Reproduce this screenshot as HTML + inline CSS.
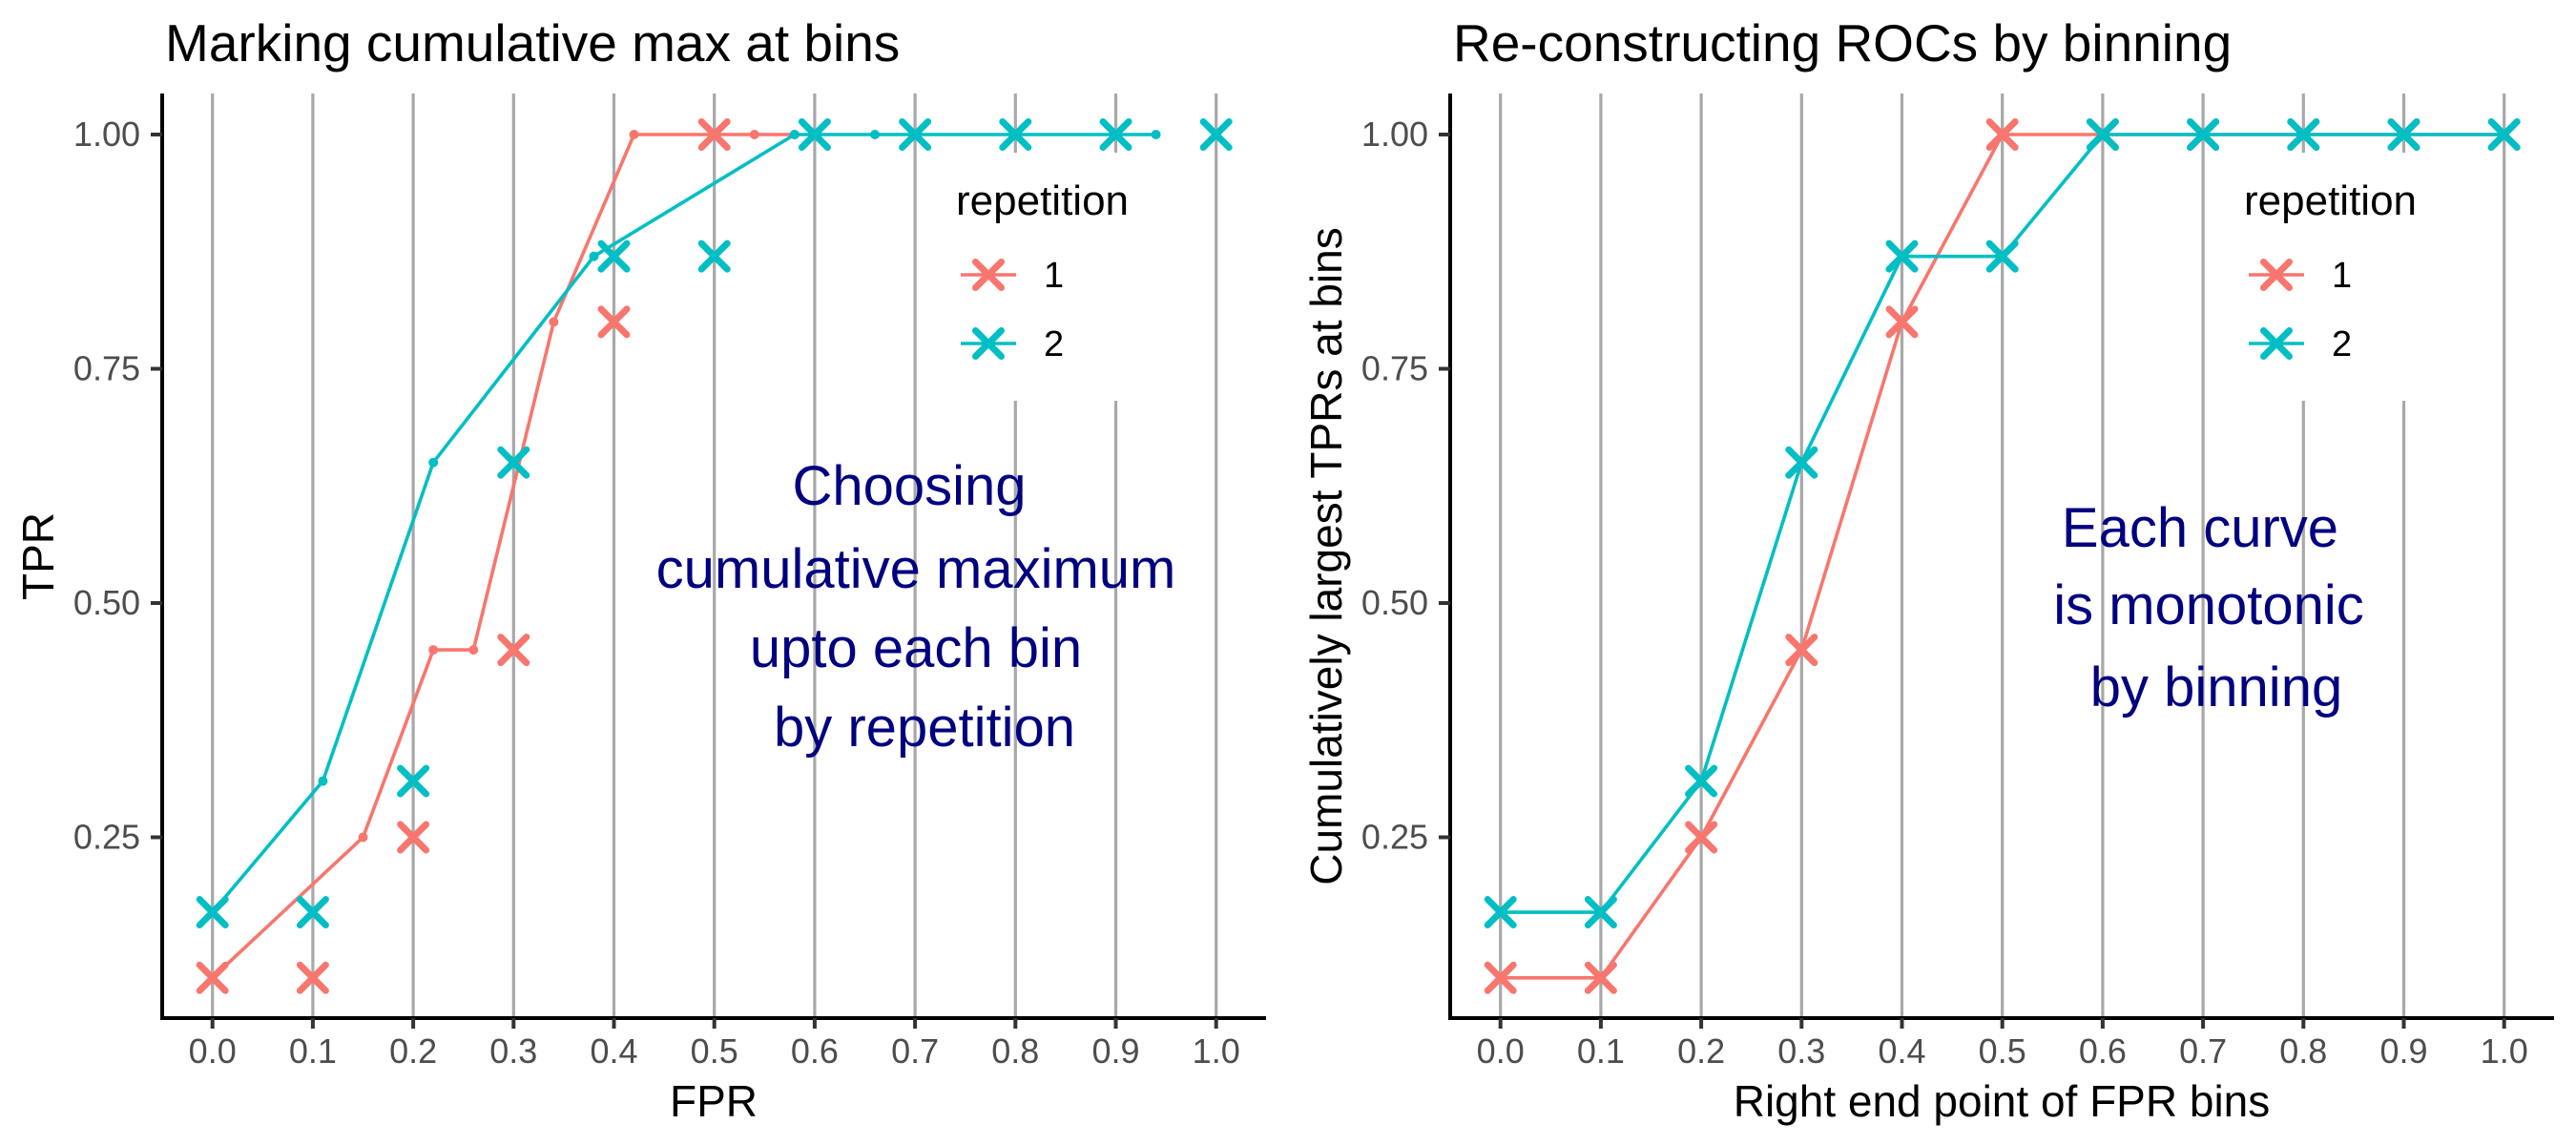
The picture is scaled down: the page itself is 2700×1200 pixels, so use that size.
<!DOCTYPE html>
<html><head><meta charset="utf-8"><style>
html,body{margin:0;padding:0;background:#fff;}
svg{display:block;font-family:"Liberation Sans",Arial,sans-serif;}
</style></head><body>
<svg id="chart" width="2700" height="1200" viewBox="0 0 2700 1200" xmlns="http://www.w3.org/2000/svg"></svg>
<script>
// ---- data ----
const xTicks = [0,0.1,0.2,0.3,0.4,0.5,0.6,0.7,0.8,0.9,1.0];
const xTickLabels = ["0.0","0.1","0.2","0.3","0.4","0.5","0.6","0.7","0.8","0.9","1.0"];
const yTicks = [0.25,0.5,0.75,1.0];
const yTickLabels = ["0.25","0.50","0.75","1.00"];
// left panel: raw ROC lines
const rep1LineX = [0,0.15,0.22,0.26,0.34,0.42,0.54,0.58];
const rep1LineY = [0.1,0.25,0.45,0.45,0.8,1.0,1.0,1.0];
const rep2LineX = [0,0.11,0.22,0.38,0.58,0.66,0.94];
const rep2LineY = [0.17,0.31,0.65,0.87,1.0,1.0,1.0];
// left panel: cumulative max markers
const rep1MarkX = [0,0.1,0.2,0.3,0.4,0.5];
const rep1MarkY = [0.1,0.1,0.25,0.45,0.8,1.0];
const rep2MarkX = [0,0.1,0.2,0.3,0.4,0.5,0.6,0.7,0.8,0.9,1.0];
const rep2MarkY = [0.17,0.17,0.31,0.65,0.87,0.87,1.0,1.0,1.0,1.0,1.0];
// right panel: binned ROCs
const bins = [0,0.1,0.2,0.3,0.4,0.5,0.6,0.7,0.8,0.9,1.0];
const rep1Binned = [0.1,0.1,0.25,0.45,0.8,1.0,1.0,1.0,1.0,1.0,1.0];
const rep2Binned = [0.17,0.17,0.31,0.65,0.87,0.87,1.0,1.0,1.0,1.0,1.0];

const RED="#F8766D", CYAN="#00BFC4";
const svg=document.getElementById('chart');
const NS="http://www.w3.org/2000/svg";
function mk(tag,attrs,parent){const e=document.createElementNS(NS,tag);for(const k in attrs)e.setAttribute(k,attrs[k]);(parent||svg).appendChild(e);return e;}

function panel(off, name, title, ytitle, xtitle){
  const g=mk('g',{transform:'translate('+off+',0)'});
  
  
  const xs=v=>222.7+v*1052;
  const ys=v=>141+(1-v)*982;
  xTicks.forEach(t=>{const l=mk('line',{x1:xs(t),x2:xs(t),y1:98,y2:1067,stroke:'#a8a8a8','stroke-width':3.2},g);
    
    });
  const tt=mk('text',{x:173,y:64,'font-size':55,fill:'#000'},g);tt.textContent=title;
  
  
  const ax=mk('line',{x1:170,x2:170,y1:98,y2:1069,stroke:'#000','stroke-width':4},g);
  
  
  const ax2=mk('line',{x1:168,x2:1327,y1:1067,y2:1067,stroke:'#000','stroke-width':4},g);
  
  
  xTicks.forEach((t,i)=>{
    mk('line',{x1:xs(t),x2:xs(t),y1:1067,y2:1078,stroke:'#333','stroke-width':4},g);
    const tx=mk('text',{x:xs(t),y:1114,'font-size':36,fill:'#4d4d4d','text-anchor':'middle'},g);
    tx.textContent=xTickLabels[i];
    
    
  });
  yTicks.forEach((t,i)=>{
    mk('line',{x1:158,x2:170,y1:ys(t),y2:ys(t),stroke:'#333','stroke-width':4},g);
    const tx=mk('text',{x:147,y:ys(t)+12,'font-size':36,fill:'#4d4d4d','text-anchor':'end'},g);
    tx.textContent=yTickLabels[i];
    
    
  });
  const xt=mk('text',{x:748,y:1170,'font-size':46,fill:'#000','text-anchor':'middle'},g);xt.textContent=xtitle;
  
  
  const yt=mk('text',{x:0,y:0,'font-size':46,fill:'#000','text-anchor':'middle',transform:'translate(56,583) rotate(-90)'},g);yt.textContent=ytitle;
  
  
  return {g,xs,ys};
}
function line(p,X,Y,color,name,dots){
  const pts=X.map((x,i)=>p.xs(x)+','+p.ys(Y[i])).join(' ');
  const pl=mk('polyline',{points:pts,fill:'none',stroke:color,'stroke-width':3.6,'stroke-linejoin':'round'},p.g);
  
  
  if(dots){X.forEach((x,i)=>{const c=mk('circle',{cx:p.xs(x),cy:p.ys(Y[i]),r:5,fill:color},p.g);
    
    });}
}
function cross(p,cx,cy,color,name,parent){
  const gg=mk('g',{stroke:color,'stroke-width':7,'stroke-linecap':'round'},parent||p.g);
  
  
  const h=13.5;
  mk('line',{x1:cx-h,y1:cy-h,x2:cx+h,y2:cy+h},gg);
  mk('line',{x1:cx-h,y1:cy+h,x2:cx+h,y2:cy-h},gg);
}
function marks(p,X,Y,color,name){X.forEach((x,i)=>cross(p,p.xs(x),p.ys(Y[i]),color,name));}
function legend(p){
  const lg=mk('g',{},p.g);
  
  
  mk('rect',{x:985,y:160,width:255,height:260,fill:'#fff'},lg);
  const t=mk('text',{x:1002,y:225,'font-size':44,fill:'#000'},lg);t.textContent='repetition';
  [[RED,'1',288],[CYAN,'2',360]].forEach(([c,l,y])=>{
    const e=mk('g',{},lg);
    
    
    mk('line',{x1:1007,x2:1065,y1:y,y2:y,stroke:c,'stroke-width':3.6},e);
    cross(p,1036,y,c,'legend-key-'+l,e);
    const tx=mk('text',{x:1094,y:y+13,'font-size':38,fill:'#000'},e);tx.textContent=l;
  });
}
function anno(p,lines){
  const ag=mk('g',{},p.g);
  
  
  lines.forEach(([s,x,y])=>{const t=mk('text',{x:x,y:y,'font-size':58,fill:'#000080','text-anchor':'middle'},ag);t.textContent=s;});
}

const L=panel(0,'left-panel','Marking cumulative max at bins','TPR','FPR');
line(L,rep1LineX,rep1LineY,RED,'rep1-roc-line',true);
line(L,rep2LineX,rep2LineY,CYAN,'rep2-roc-line',true);
marks(L,rep1MarkX,rep1MarkY,RED,'rep1-marker');
marks(L,rep2MarkX,rep2MarkY,CYAN,'rep2-marker');
legend(L);
anno(L,[['Choosing',953,529],['cumulative maximum',960,616],['upto each bin',960,699],['by repetition',969,782]]);

const R=panel(1350,'right-panel','Re-constructing ROCs by binning','Cumulatively largest TPRs at bins','Right end point of FPR bins');
line(R,bins,rep1Binned,RED,'rep1-binned-line',false);
marks(R,bins,rep1Binned,RED,'rep1-binned-marker');
line(R,bins,rep2Binned,CYAN,'rep2-binned-line',false);
marks(R,bins,rep2Binned,CYAN,'rep2-binned-marker');
legend(R);
anno(R,[['Each curve',956,573],['is monotonic',965,654],['by binning',973,740]]);
</script>
</body></html>
